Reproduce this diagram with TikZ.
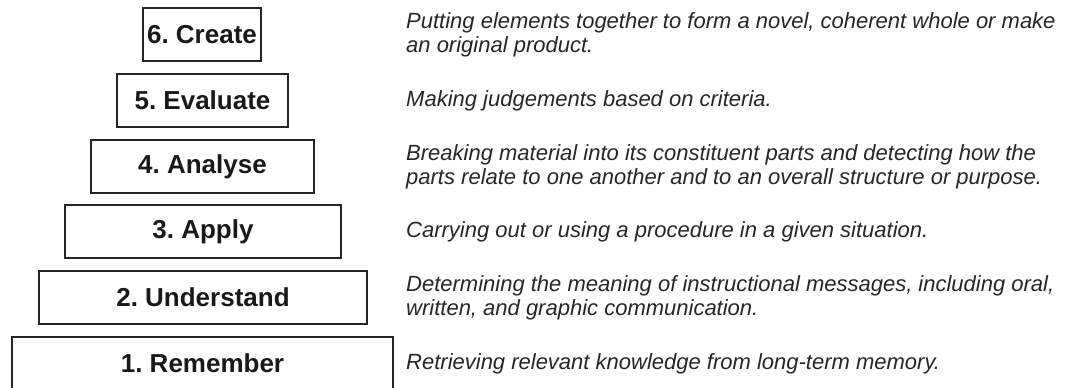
\documentclass[tikz,border=0pt]{standalone}
\usepackage{fontspec}
\setmainfont{Liberation Sans}
\frenchspacing
\begin{document}
\begin{tikzpicture}[x=1pt,y=-1pt,
  tier/.style={draw=black!85,line width=1.3pt,minimum height=53pt,inner sep=0pt,text=black!90,font=\fontsize{26}{28}\selectfont\bfseries},
  desc/.style={anchor=west,inner sep=0pt,align=left,text=black!85,font=\fontsize{22}{24}\selectfont\itshape}]
\useasboundingbox (0,0) rectangle (1066,388);
\node[tier,minimum width=118pt] (create) at (202,34.5){6. Create};
\node[tier,minimum width=171pt] (evaluate) at (202.5,100.5){5. Evaluate};
\node[tier,minimum width=223pt] (analyse) at (202.5,166.5){4. Analyse};
\node[tier,minimum width=276pt] (apply) at (203,231.5){3. Apply};
\node[tier,minimum width=328pt] (understand) at (203,297.5){2. Understand};
\node[tier,minimum width=381pt] (remember) at (202.5,363.5){1. Remember};
\node[desc] (createtxt) at (406,1.5 |- create){Putting elements together to form a novel, coherent whole or make\\an original product.};
\node[desc] (evaluatetxt) at (406,1.5 |- evaluate){Making judgements based on criteria.};
\node[desc] (analysetxt) at (406,1.5 |- analyse){Breaking material into its constituent parts and detecting how the\\parts relate to one another and to an overall structure or purpose.};
\node[desc] (applytxt) at (406,1.5 |- apply){Carrying out or using a procedure in a given situation.};
\node[desc] (understandtxt) at (406,1.5 |- understand){Determining the meaning of instructional messages, including oral,\\written, and graphic communication.};
\node[desc] (remembertxt) at (406,1.5 |- remember){Retrieving relevant knowledge from long-term memory.};
\end{tikzpicture}
\end{document}
